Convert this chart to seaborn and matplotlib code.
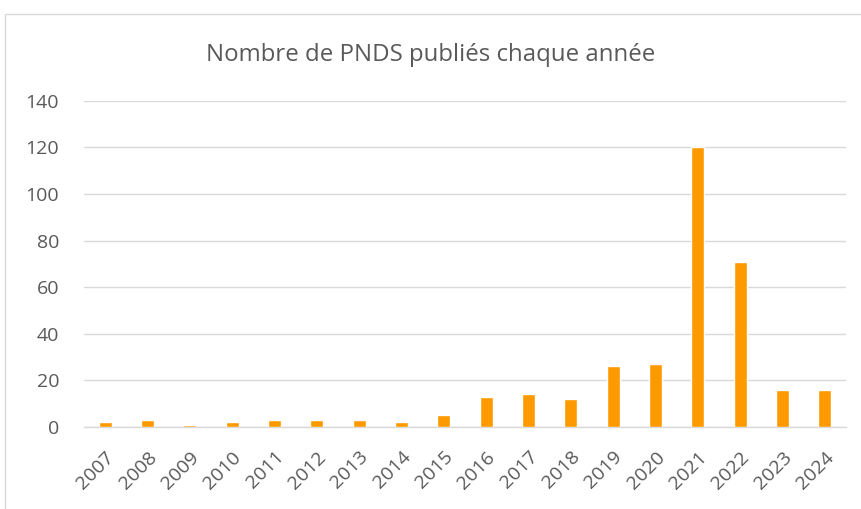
import pandas as pd
import matplotlib.pyplot as plt
import seaborn as sns
from matplotlib.patches import Rectangle

# Data
years = ['2007', '2008', '2009', '2010', '2011', '2012', '2013', '2014', '2015',
         '2016', '2017', '2018', '2019', '2020', '2021', '2022', '2023', '2024']
counts = [2, 3, 1, 2, 3, 3, 3, 2, 5, 13, 14, 12, 26, 27, 120, 71, 16, 16]
y_ticks = [0, 20, 40, 60, 80, 100, 120, 140]

sns.set_theme(style="white")
plt.rcParams['font.family'] = ['Open Sans', 'DejaVu Sans']

df = pd.DataFrame({'Année': years, 'PNDS': counts})

fig = plt.figure(figsize=(8.61, 5.09), dpi=100)
fig.patch.set_facecolor('white')
ax = fig.add_axes([84 / 861, 0.161, 762 / 861, 0.641])

sns.barplot(data=df, x='Année', y='PNDS', color='#FF9900', saturation=1,
            width=0.31, ax=ax, zorder=3)

ax.set_ylim(0, 140)
ax.set_yticks(y_ticks)
ax.set_xlim(-0.5, len(years) - 0.5)
ax.yaxis.grid(True, color='#d9d9d9', linewidth=1, zorder=0)
ax.set_axisbelow(True)
for s in ['top', 'right', 'left']:
    ax.spines[s].set_visible(False)
ax.spines['bottom'].set_color('#d9d9d9')
ax.spines['bottom'].set_linewidth(1)
ax.set_xlabel('')
ax.set_ylabel('')
ax.tick_params(axis='both', length=0, labelsize=14, colors='#595959')
ax.tick_params(axis='y', pad=18)
ax.tick_params(axis='x', pad=15)
plt.setp(ax.get_xticklabels(), rotation=45, ha='right', rotation_mode='anchor')

fig.text(0.5, 1 - 61 / 509, 'Nombre de PNDS publiés chaque année', ha='center',
         va='baseline', fontsize=17.3, color='#595959')

# Chart area border
fig.patches.append(Rectangle((5 / 861, -0.01), 1.0, 1 - 14 / 509 + 0.01,
                             transform=fig.transFigure, fill=False,
                             edgecolor='#d9d9d9', linewidth=1))

fig.savefig('out.png', dpi=100)
plt.close(fig)
